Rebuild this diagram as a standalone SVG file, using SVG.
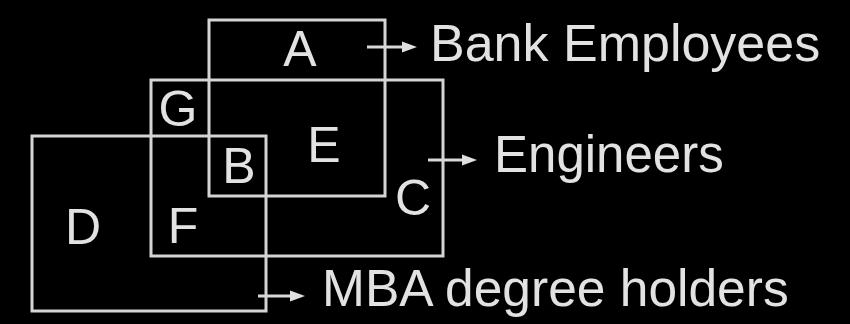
<svg xmlns="http://www.w3.org/2000/svg" width="850" height="324" viewBox="0 0 850 324">
<defs>
<style>
.box{fill:none;stroke:#d4d4d4;stroke-width:3}
.lbl{font-family:"Liberation Sans",Arial,sans-serif;font-size:51px;fill:#e2e2e2}
.reg{font-family:"Liberation Sans",Arial,sans-serif;font-size:50px;fill:#e2e2e2;text-anchor:middle}
.arr{stroke:#d8d8d8;stroke-width:3;fill:none}
.head{fill:#e0e0e0}
</style>
</defs>
<rect width="850" height="324" fill="#000"/>
<g id="bank-employees">
<rect class="box" x="209" y="20" width="176" height="176"/>
</g>
<g id="engineers">
<rect class="box" x="151" y="80" width="292" height="176"/>
</g>
<g id="mba-holders">
<rect class="box" x="32" y="136" width="234" height="175"/>
</g>
<g id="regions">
<text class="reg" x="300" y="66">A</text>
<text class="reg" x="178" y="126">G</text>
<text class="reg" x="324" y="162">E</text>
<text class="reg" x="239" y="183">B</text>
<text class="reg" x="413" y="215">C</text>
<text class="reg" x="83" y="244">D</text>
<text class="reg" x="183" y="243">F</text>
</g>
<g id="connectors">
<line class="arr" x1="367" y1="47" x2="404" y2="47"/>
<polygon class="head" points="402,41.5 417,47 402,52.5"/>
<line class="arr" x1="428" y1="160" x2="464" y2="160"/>
<polygon class="head" points="462,154.5 477,160 462,165.5"/>
<line class="arr" x1="258" y1="296" x2="292" y2="296"/>
<polygon class="head" points="290,290.5 305,296 290,301.5"/>
</g>
<g id="labels">
<text class="lbl" x="430" y="61" style="font-size:52px">Bank Employees</text>
<text class="lbl" x="494" y="172">Engineers</text>
<text class="lbl" x="322" y="306" style="font-size:51.5px">MBA degree holders</text>
</g>
</svg>
